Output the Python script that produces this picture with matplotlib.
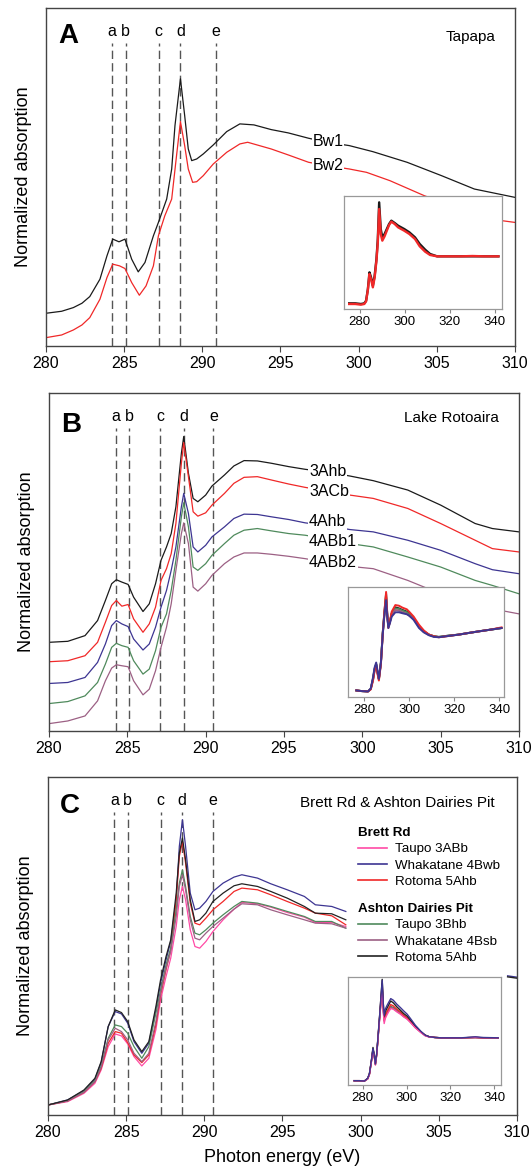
import matplotlib
matplotlib.use("Agg")
import matplotlib.pyplot as plt

plt.rcParams["font.family"] = ["Liberation Sans", "DejaVu Sans"]

# ===== PANEL A : TAPAPA (arbitrary units) =====
a_e_bw1 = [280, 281, 281.75, 282.3, 282.8, 283.45, 283.9, 284.27, 284.67, 285.05, 285.48, 285.9,
           286.33, 286.87, 287.19, 287.72, 288.04, 288.25, 288.6, 288.87, 289.1, 289.32, 289.64,
           290.06, 290.7, 291.56, 292.4, 293.3, 294.4, 295.5, 296.8, 298.0, 299.4, 300.9, 303.1,
           305.3, 307.4, 310]
a_bw1 = [9.8, 10.4, 11.5, 12.8, 14.8, 20.0, 27.0, 32.0, 31.2, 32.0, 26.0, 22.2, 25.0, 33.0, 37.0,
         44.0, 53.0, 66.0, 80.0, 69.0, 59.0, 55.5, 56.0, 57.5, 60.2, 64.2, 66.5, 66.2, 64.8, 63.8,
         62.2, 61.0, 60.0, 58.2, 55.0, 51.0, 47.0, 44.5]
a_e_bw2 = [280, 281, 281.75, 282.3, 282.8, 283.45, 283.9, 284.27, 284.7, 285.05, 285.48, 285.97,
           286.4, 286.87, 287.19, 287.6, 288.04, 288.35, 288.6, 288.87, 289.1, 289.38, 289.64,
           290.06, 290.7, 291.56, 292.4, 292.9, 294.4, 295.5, 296.8, 298.0, 299.4, 300.5, 302.0,
           304.2, 306.0, 308.0, 309.2, 310]
a_bw2 = [2.5, 3.3, 4.8, 6.3, 8.5, 14.0, 20.5, 24.5, 24.0, 23.2, 19.0, 15.2, 18.0, 24.0, 33.0,
         39.0, 44.0, 57.0, 67.2, 60.0, 53.0, 49.0, 49.2, 51.0, 54.5, 58.0, 60.5, 61.0, 59.0, 57.2,
         55.0, 54.0, 53.0, 52.0, 49.5, 45.0, 42.0, 39.5, 37.5, 37.0]

# inset A (full range)
ai_e = [275.3, 278, 280.5, 282.0, 282.8, 283.6, 284.3, 285.0, 285.8, 286.6, 287.4, 288.0, 288.6,
        289.3, 290, 291, 292, 293, 294, 295.5, 297, 299.7, 302, 304.5, 306.6, 309, 311.2, 314.3,
        320, 325, 330, 335, 341.5]
ai_bw1 = [1.7, 1.7, 1.5, 1.7, 2.5, 6.0, 11.0, 9.5, 7.0, 10.0, 15.0, 21.0, 32.0, 24.0, 21.5, 22.5,
          24.0, 25.5, 26.5, 25.8, 25.0, 24.0, 23.0, 21.5, 19.5, 17.8, 16.5, 15.8, 15.8, 15.8, 15.8,
          15.8, 15.8]
ai_bw2 = [1.5, 1.5, 1.3, 1.5, 2.3, 5.8, 10.5, 9.0, 6.5, 9.5, 14.5, 20.0, 30.0, 22.5, 20.5, 21.8,
          23.5, 25.2, 26.2, 25.5, 24.5, 23.5, 22.5, 21.0, 18.8, 17.2, 16.2, 15.8, 15.8, 15.8, 15.9,
          15.8, 15.8]

# ===== PANEL B : LAKE ROTOAIRA =====
b_e = [280, 281.2, 282.3, 283.1, 283.6, 284.0, 284.3, 284.65, 285.05, 285.4, 286.0, 286.4, 286.8,
       287.15, 287.5, 287.8, 288.1, 288.45, 288.6, 288.9, 289.2, 289.5, 290.0, 290.4, 291.2,
       291.8, 292.45, 293.3, 294.2, 295.3, 296.35, 298.0, 299.2, 300.7, 302.9, 305.0, 307.2,
       308.3, 310]
b_3ahb = [26.5, 26.8, 28.5, 33.0, 39.0, 44.0, 45.2, 44.5, 43.8, 40.0, 35.7, 38.0, 44.0, 51.0,
          55.0, 59.0, 67.0, 83.0, 88.0, 77.0, 69.5, 68.5, 70.5, 73.2, 76.5, 79.2, 80.8, 80.7, 80.0,
          79.0, 78.2, 77.2, 76.2, 74.8, 72.0, 67.5, 62.0, 60.5, 59.5]
b_3acb = [20.7, 21.0, 22.5, 26.5, 32.5, 37.5, 39.0, 37.3, 37.8, 33.5, 29.5, 32.0, 37.0, 45.0,
          48.5, 53.0, 62.0, 80.0, 86.2, 76.0, 65.5, 64.2, 65.2, 67.5, 71.0, 74.0, 75.8, 76.0, 75.0,
          73.8, 72.8, 71.5, 70.5, 69.5, 66.5, 62.0, 57.0, 54.5, 53.5]
b_4ahb = [14.2, 14.5, 16.0, 20.5, 26.0, 31.5, 33.0, 32.0, 31.2, 27.5, 24.2, 26.0, 31.0, 37.0,
          42.0, 48.0, 55.0, 67.0, 71.0, 65.0, 55.0, 53.5, 55.5, 58.0, 61.0, 63.5, 64.8, 64.7, 64.0,
          63.2, 62.2, 61.2, 60.2, 59.5, 57.0, 54.0, 50.0, 48.2, 47.0]
b_4abb1 = [8.2, 8.8, 10.5, 14.5, 20.0, 25.0, 26.2, 25.5, 25.0, 21.0, 17.0, 18.5, 24.0, 31.0,
           35.0, 42.0, 51.0, 64.0, 68.2, 61.0, 49.0, 48.0, 50.0, 52.5, 56.0, 58.5, 60.0, 60.5,
           59.8, 59.0, 58.5, 57.2, 56.0, 55.0, 52.0, 49.0, 45.0, 43.5, 41.0]
b_4abb2 = [2.2, 3.0, 4.5, 9.0, 15.0, 18.8, 19.8, 19.5, 19.2, 15.0, 10.8, 12.5, 18.0, 25.0, 31.0,
           38.0, 48.0, 59.0, 62.2, 56.0, 43.0, 41.8, 44.0, 46.5, 50.0, 52.0, 53.2, 53.2, 52.8,
           52.2, 51.5, 50.2, 49.2, 48.5, 45.0, 41.0, 38.0, 36.5, 35.0]

bi_e = [276.6, 279, 281.8, 283.0, 284.0, 284.7, 285.4, 286.0, 286.6, 287.5, 288.3, 289.0, 289.8,
        290.3, 290.8, 291.5, 292.3, 293.9, 295.5, 297.1, 299, 300, 302, 304.4, 306.5, 308.8, 311,
        313.2, 317.6, 322, 326.4, 331, 336, 341]
bi_3ahb = [2.0, 1.8, 1.7, 2.5, 5.5, 8.5, 10.0, 7.5, 5.5, 10.5, 19.5, 25.5, 31.5, 25.5, 21.5, 23.0,
           25.5, 27.3, 27.0, 26.5, 26.0, 25.5, 24.0, 21.5, 20.0, 19.0, 18.5, 18.3, 18.7, 19.0,
           19.5, 20.0, 20.5, 21.0]
bi_3acb = [2.0, 1.8, 1.7, 2.3, 5.0, 8.0, 9.5, 7.0, 5.0, 10.0, 19.0, 25.5, 32.0, 25.5, 21.0, 23.0,
           26.0, 28.0, 27.8, 27.2, 26.7, 26.0, 24.5, 22.0, 20.3, 19.0, 18.5, 18.2, 18.6, 19.0,
           19.5, 20.0, 20.5, 21.2]
bi_4ahb = [2.0, 1.8, 1.7, 2.6, 6.0, 9.0, 10.5, 8.0, 5.5, 10.5, 19.0, 24.5, 29.5, 24.5, 21.0, 22.5,
           24.5, 25.8, 25.8, 25.5, 25.2, 24.8, 23.5, 21.0, 19.7, 18.8, 18.3, 18.2, 18.6, 19.0,
           19.5, 20.0, 20.5, 21.0]
bi_4abb1 = [2.0, 1.8, 1.7, 2.5, 5.5, 8.5, 10.0, 7.5, 5.5, 10.5, 19.5, 25.0, 30.5, 25.0, 21.5,
            23.0, 25.5, 27.0, 26.8, 26.3, 25.8, 25.3, 24.0, 21.5, 20.0, 19.0, 18.5, 18.3, 18.7,
            19.0, 19.5, 20.0, 20.5, 21.0]
bi_4abb2 = [2.0, 1.8, 1.7, 2.5, 5.3, 8.3, 9.8, 7.3, 5.3, 10.3, 19.0, 24.8, 30.0, 24.8, 21.2, 22.8,
            25.0, 26.5, 26.3, 25.8, 25.3, 24.8, 23.8, 21.3, 19.8, 18.9, 18.4, 18.2, 18.6, 19.0,
            19.5, 20.0, 20.5, 21.0]

# ===== PANEL C : BRETT RD & ASHTON DAIRIES PIT =====
c_e = [280, 281.25, 282.3, 283.0, 283.4, 283.85, 284.3, 284.7, 285.1, 285.5, 286.0, 286.45, 286.9,
       287.2, 287.55, 287.85, 288.2, 288.4, 288.6, 288.8, 289.1, 289.4, 289.7, 290.1, 290.55,
       291.2, 291.9, 292.4, 293.4, 294.25, 295.3, 296.4, 297.1, 298.15, 299.05]
c_br_taupo = [3.0, 4.0, 6.5, 9.5, 13.5, 20.5, 24.3, 23.7, 21.3, 17.5, 14.7, 17.0, 25.5, 34.5,
              41.5, 47.0, 56.5, 64.5, 68.5, 64.5, 55.5, 50.5, 50.0, 52.0, 55.0, 58.5, 61.7, 63.7,
              63.3, 62.3, 60.7, 59.3, 57.7, 57.7, 56.5]
c_br_whak = [3.0, 4.5, 7.3, 10.7, 15.7, 26.5, 31.0, 30.3, 27.5, 22.0, 18.5, 21.5, 31.5, 39.5,
             46.5, 52.0, 64.5, 80.5, 88.5, 80.5, 66.5, 61.5, 62.0, 64.0, 67.0, 69.5, 71.3, 72.0,
             71.0, 69.3, 67.5, 65.5, 63.0, 62.5, 61.0]
c_br_rotoma = [3.0, 4.2, 6.8, 10.0, 14.0, 21.5, 25.0, 24.5, 21.7, 18.0, 15.7, 18.0, 27.0, 36.0,
               43.5, 49.5, 64.5, 77.5, 82.0, 75.5, 63.5, 57.5, 57.0, 59.0, 61.5, 64.0, 67.0, 68.0,
               67.5, 66.0, 64.0, 62.0, 60.5, 59.7, 57.0]
c_ad_taupo = [3.0, 4.3, 7.0, 10.3, 14.7, 23.0, 27.0, 26.5, 24.5, 20.5, 17.0, 20.5, 30.5, 37.5,
              45.0, 50.0, 61.5, 69.5, 73.5, 68.5, 59.5, 54.5, 54.0, 55.5, 57.5, 60.0, 62.5, 64.0,
              63.5, 62.5, 61.0, 59.5, 58.0, 58.0, 56.0]
c_ad_whak = [3.0, 4.2, 6.8, 10.0, 14.3, 22.5, 26.0, 25.0, 22.5, 18.5, 16.0, 18.5, 28.0, 36.5,
             44.0, 49.0, 59.5, 68.5, 72.0, 67.5, 58.5, 53.0, 52.5, 54.5, 56.5, 59.0, 61.7, 63.3,
             63.0, 61.5, 60.0, 58.5, 57.5, 57.3, 56.0]
c_ad_rotoma = [3.0, 4.5, 7.5, 11.0, 16.0, 26.5, 31.5, 30.7, 28.0, 22.5, 19.0, 22.0, 32.5, 40.5,
               47.5, 52.5, 66.5, 78.5, 83.0, 76.5, 64.5, 58.0, 58.5, 60.5, 64.0, 66.5, 68.7, 69.3,
               68.5, 67.0, 65.0, 62.5, 60.5, 60.3, 58.5]
# short visible piece at the right edge
c_tail_e = [309.4, 310]
c_tail_whak = [41.7, 41.3]
c_tail_rotoma = [41.4, 41.0]

ci_e = [276.1, 278.5, 280.8, 282.3, 283.1, 284.0, 284.7, 285.3, 285.8, 286.4, 287.0, 287.8, 288.9,
        289.4, 289.8, 290.3, 291.0, 291.8, 292.8, 294.0, 295.6, 297.2, 298.7, 300.3, 301.8, 304.0,
        306.5, 308.5, 310.4, 313, 315.8, 320, 325, 331.4, 335, 341.8]
ci_br_taupo = [1.3, 1.3, 1.2, 1.8, 3.2, 7.0, 10.5, 8.5, 6.0, 9.0, 14.0, 20.5, 29.0, 22.0, 18.5,
               20.0, 21.0, 22.0, 23.0, 22.8, 22.0, 21.3, 20.5, 19.8, 18.8, 17.2, 15.8, 14.8, 14.4,
               14.3, 14.2, 14.2, 14.2, 14.3, 14.2, 14.2]
ci_br_whak = [1.3, 1.3, 1.2, 2.0, 3.5, 7.5, 11.0, 8.8, 6.3, 9.5, 14.5, 21.5, 31.5, 24.5, 21.0,
              22.8, 23.8, 24.8, 26.0, 25.5, 24.3, 23.3, 22.3, 21.3, 20.0, 18.0, 16.2, 15.0, 14.5,
              14.3, 14.2, 14.2, 14.2, 14.5, 14.3, 14.2]
ci_br_rotoma = [1.3, 1.3, 1.2, 1.9, 3.3, 7.2, 10.7, 8.7, 6.2, 9.2, 14.2, 21.0, 30.5, 23.0, 19.5,
                21.0, 22.0, 23.0, 24.2, 23.8, 22.8, 22.0, 21.0, 20.2, 19.2, 17.5, 16.0, 15.0, 14.5,
                14.3, 14.2, 14.2, 14.2, 14.3, 14.2, 14.2]
ci_ad_taupo = [1.3, 1.3, 1.2, 1.9, 3.3, 7.3, 10.8, 8.7, 6.2, 9.2, 14.2, 20.8, 29.5, 22.8, 19.5,
               21.0, 21.8, 22.7, 23.7, 23.3, 22.5, 21.7, 20.8, 20.0, 19.0, 17.4, 15.9, 14.9, 14.5,
               14.3, 14.2, 14.2, 14.2, 14.3, 14.2, 14.2]
ci_ad_whak = [1.3, 1.3, 1.2, 1.9, 3.3, 7.2, 10.6, 8.6, 6.1, 9.1, 14.0, 20.6, 29.2, 22.5, 19.2,
              20.7, 21.5, 22.4, 23.4, 23.0, 22.2, 21.5, 20.6, 19.9, 18.9, 17.3, 15.9, 14.9, 14.5,
              14.3, 14.2, 14.2, 14.2, 14.3, 14.2, 14.2]
ci_ad_rotoma = [1.3, 1.3, 1.2, 2.0, 3.5, 7.5, 11.3, 9.0, 6.5, 9.5, 14.5, 21.5, 31.8, 24.5, 20.5,
                22.0, 23.0, 24.0, 25.3, 24.7, 23.5, 22.5, 21.5, 20.7, 19.5, 17.7, 16.0, 15.0, 14.5,
                14.3, 14.2, 14.2, 14.2, 14.3, 14.2, 14.2]

# ===== FEATURE MARKERS =====
peak_labels = ["a", "b", "c", "d", "e"]
a_peaks = [284.2, 285.1, 287.2, 288.6, 290.85]
b_peaks = [284.27, 285.13, 287.1, 288.62, 290.5]
c_peaks = [284.25, 285.1, 287.2, 288.57, 290.57]

# ===== COLOURS =====
BLACK = "#1a1a1a"
RED = "#f02828"
BLUE = "#3d3592"
GREEN = "#4f8a5c"
MAUVE = "#9c6084"
PINK = "#ff4aa5"

W, H = 532, 1175
fig = plt.figure(figsize=(W / 100, H / 100), dpi=100)


def px_axes(left, top, right, bottom):
    return fig.add_axes([left / W, 1 - bottom / H, (right - left) / W, (bottom - top) / H])


def style_main(ax, ymax, peaks):
    ax.set_xlim(280, 310)
    ax.set_ylim(0, ymax)
    ax.set_xticks(range(280, 311, 5))
    ax.set_yticks([])
    ax.tick_params(axis="x", direction="out", length=4, labelsize=11.5, color="#444")
    for s in ax.spines.values():
        s.set_color("#444")
        s.set_linewidth(1.0)
    ax.set_ylabel("Normalized absorption", fontsize=13, labelpad=10)
    for lab, p in zip(peak_labels, peaks):
        ax.axvline(p, ymin=0, ymax=0.895, color="#555", lw=1.0, dashes=(6, 3), zorder=1)
        ax.text(p, 0.93, lab, transform=ax.get_xaxis_transform(), ha="center", va="center",
                fontsize=11.5)


def style_inset(ax, xlo, xhi, ymax):
    ax.set_xlim(xlo, xhi)
    ax.set_ylim(0, ymax)
    ax.set_xticks([280, 300, 320, 340])
    ax.set_yticks([])
    ax.tick_params(axis="x", direction="out", length=3, labelsize=9.5, color="#888", pad=2)
    for s in ax.spines.values():
        s.set_color("#999")
        s.set_linewidth(0.9)


# ===== PANEL A =====
axA = px_axes(46, 8, 515, 346)
axA.plot(a_e_bw1, a_bw1, color=BLACK, lw=0.9)
axA.plot(a_e_bw2, a_bw2, color=RED, lw=0.9)
style_main(axA, 101.2, a_peaks)
axA.text(0.026, 0.955, "A", transform=axA.transAxes, fontsize=20, fontweight="bold", va="top")
axA.text(0.958, 0.915, "Tapapa", transform=axA.transAxes, fontsize=11, ha="right", va="center")
for txt, yv in [("Bw1", 61.2), ("Bw2", 54.0)]:
    axA.text(297.05, yv, txt, fontsize=11.5, va="center", ha="left",
             bbox=dict(facecolor="white", edgecolor="none", pad=0.5))

insA = px_axes(344, 196, 502, 309)
insA.plot(ai_e, ai_bw1, color=BLACK, lw=1.7)
insA.plot(ai_e, ai_bw2, color=RED, lw=1.7)
style_inset(insA, 273.0, 343.1, 33.9)

# ===== PANEL B =====
axB = px_axes(49, 393, 519, 731)
b_series = [(b_3ahb, BLACK, "3Ahb", 77.5), (b_3acb, RED, "3ACb", 71.5),
            (b_4ahb, BLUE, "4Ahb", 62.5), (b_4abb1, GREEN, "4ABb1", 56.5),
            (b_4abb2, MAUVE, "4ABb2", 50.5)]
for vals, col, lab, ylab in b_series:
    axB.plot(b_e, vals, color=col, lw=0.9)
    axB.text(296.6, ylab, lab, fontsize=11.5, va="center", ha="left",
             bbox=dict(facecolor="white", edgecolor="none", pad=0.5))
style_main(axB, 101.0, b_peaks)
axB.text(0.026, 0.944, "B", transform=axB.transAxes, fontsize=20, fontweight="bold", va="top")
axB.text(0.958, 0.925, "Lake Rotoaira", transform=axB.transAxes, fontsize=11, ha="right",
         va="center")

insB = px_axes(348, 587, 504, 697)
for vals, col in [(bi_3ahb, BLACK), (bi_4abb1, GREEN), (bi_4abb2, MAUVE), (bi_3acb, RED),
                  (bi_4ahb, BLUE)]:
    insB.plot(bi_e, vals, color=col, lw=1.4)
style_inset(insB, 272.9, 342.1, 33.5)

# ===== PANEL C =====
axC = px_axes(48, 777, 517, 1115)
c_br = [(c_br_taupo, PINK, "Taupo 3ABb"), (c_br_whak, BLUE, "Whakatane 4Bwb"),
        (c_br_rotoma, RED, "Rotoma 5Ahb")]
c_ad = [(c_ad_taupo, GREEN, "Taupo 3Bhb"), (c_ad_whak, MAUVE, "Whakatane 4Bsb"),
        (c_ad_rotoma, "#222222", "Rotoma 5Ahb")]
h_br = [axC.plot(c_e, v, color=col, lw=0.9, label=lab)[0] for v, col, lab in c_br]
h_ad = [axC.plot(c_e, v, color=col, lw=0.9, label=lab)[0] for v, col, lab in c_ad]
axC.plot(c_tail_e, c_tail_whak, color=BLUE, lw=1.0)
axC.plot(c_tail_e, c_tail_rotoma, color="#222222", lw=1.0)
style_main(axC, 101.3, c_peaks)
axC.set_xlabel("Photon energy (eV)", fontsize=13, labelpad=6)
axC.text(0.026, 0.953, "C", transform=axC.transAxes, fontsize=20, fontweight="bold", va="top")
axC.text(0.952, 0.923, "Brett Rd & Ashton Dairies Pit", transform=axC.transAxes, fontsize=11,
         ha="right", va="center")

leg_kw = dict(loc="upper left", bbox_transform=fig.transFigure, frameon=False, fontsize=9.6,
              title_fontproperties={"weight": "bold", "size": 9.6}, alignment="left",
              handlelength=2.15, handletextpad=0.6, labelspacing=0.3, borderpad=0,
              borderaxespad=0)
leg1 = axC.legend(handles=h_br, title="Brett Rd", bbox_to_anchor=(358 / W, 1 - 827 / H), **leg_kw)
axC.add_artist(leg1)
leg2 = axC.legend(handles=h_ad, title="Ashton Dairies Pit",
                  bbox_to_anchor=(358 / W, 1 - 903 / H), **leg_kw)
for lg in (leg1, leg2):
    for ln in lg.get_lines():
        ln.set_linewidth(1.2)

insC = px_axes(348, 977, 501, 1085)
for vals, col in [(ci_ad_taupo, GREEN), (ci_ad_whak, MAUVE), (ci_br_rotoma, RED),
                  (ci_ad_rotoma, "#222222"), (ci_br_taupo, PINK), (ci_br_whak, BLUE)]:
    insC.plot(ci_e, vals, color=col, lw=1.0)
style_inset(insC, 273.3, 343.1, 32.5)

fig.savefig("out.png", dpi=100)
